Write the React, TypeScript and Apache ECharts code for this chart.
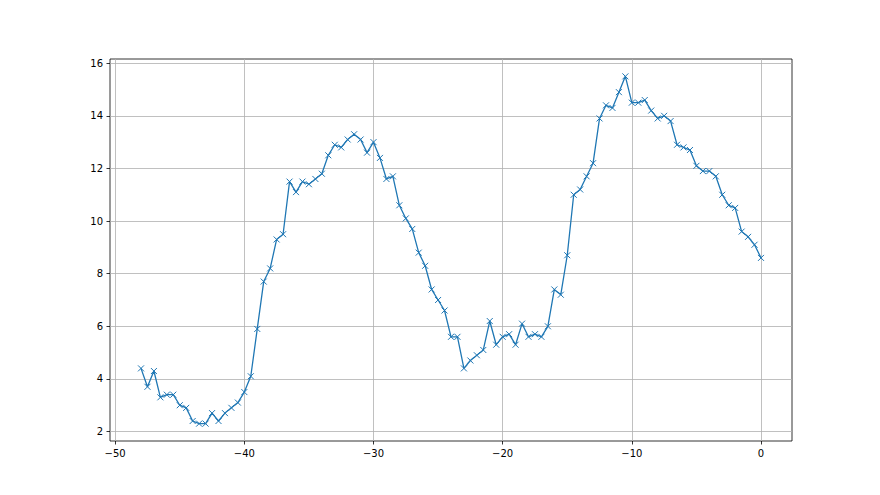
import React, { useEffect, useRef } from "react";
import * as echarts from "echarts";

const xValues = [
  -48, -47.5, -47, -46.5, -46, -45.5, -45, -44.5, -44, -43.5, -43, -42.5, -42, -41.5, -41, -40.5,
  -40, -39.5, -39, -38.5, -38, -37.5, -37, -36.5, -36, -35.5, -35, -34.5, -34, -33.5, -33, -32.5,
  -32, -31.5, -31, -30.5, -30, -29.5, -29, -28.5, -28, -27.5, -27, -26.5, -26, -25.5, -25, -24.5,
  -24, -23.5, -23, -22.5, -22, -21.5, -21, -20.5, -20, -19.5, -19, -18.5, -18, -17.5, -17, -16.5,
  -16, -15.5, -15, -14.5, -14, -13.5, -13, -12.5, -12, -11.5, -11, -10.5, -10, -9.5, -9, -8.5,
  -8, -7.5, -7, -6.5, -6, -5.5, -5, -4.5, -4, -3.5, -3, -2.5, -2, -1.5, -1, -0.5, 0,
];

const yValues = [
  4.4, 3.7, 4.3, 3.3, 3.4, 3.4, 3.0, 2.9, 2.4, 2.3, 2.3, 2.7, 2.4, 2.7, 2.9, 3.1,
  3.5, 4.1, 5.9, 7.7, 8.2, 9.3, 9.5, 11.5, 11.1, 11.5, 11.4, 11.6, 11.8, 12.5, 12.9, 12.8,
  13.1, 13.3, 13.1, 12.6, 13.0, 12.4, 11.6, 11.7, 10.6, 10.1, 9.7, 8.8, 8.3, 7.4, 7.0, 6.6,
  5.6, 5.6, 4.4, 4.7, 4.9, 5.1, 6.2, 5.3, 5.6, 5.7, 5.3, 6.1, 5.6, 5.7, 5.6, 6.0,
  7.4, 7.2, 8.7, 11.0, 11.2, 11.7, 12.2, 13.9, 14.4, 14.3, 14.9, 15.5, 14.5, 14.5, 14.6, 14.2,
  13.9, 14.0, 13.8, 12.9, 12.8, 12.7, 12.1, 11.9, 11.9, 11.7, 11.0, 10.6, 10.5, 9.6, 9.4, 9.1, 8.6,
];

const xTicks = [-50, -40, -30, -20, -10, 0];
const yTicks = [2, 4, 6, 8, 10, 12, 14, 16];

const fmt = (v: number) => String(v).replace("-", "\u2212");

export default function App() {
  const ref = useRef<HTMLDivElement>(null);
  useEffect(() => {
    const chart = echarts.init(ref.current!, null, { renderer: "svg" });
    const labelStyle = {
      color: "#000",
      fontSize: 10,
      fontFamily: "DejaVu Sans",
      margin: 7,
      formatter: fmt,
    };
    chart.setOption({
      animation: false,
      backgroundColor: "#fff",
      grid: {
        left: 110,
        top: 59,
        width: 682,
        height: 382,
        show: true,
        borderColor: "#000",
        borderWidth: 0.8,
        containLabel: false,
      },
      xAxis: {
        type: "value",
        min: -50.4,
        max: 2.4,
        axisLine: { show: false, onZero: false },
        axisTick: {
          show: true,
          inside: false,
          length: 3.5,
          customValues: xTicks,
          lineStyle: { color: "#000", width: 0.8 },
        },
        axisLabel: { ...labelStyle, customValues: xTicks },
        splitLine: { show: true, lineStyle: { color: "#b0b0b0", width: 0.8 } },
      },
      yAxis: {
        type: "value",
        min: 1.64,
        max: 16.16,
        axisLine: { show: false, onZero: false },
        axisTick: {
          show: true,
          inside: false,
          length: 3.5,
          customValues: yTicks,
          lineStyle: { color: "#000", width: 0.8 },
        },
        axisLabel: { ...labelStyle, customValues: yTicks },
        splitLine: { show: true, lineStyle: { color: "#b0b0b0", width: 0.8 } },
      },
      series: [
        {
          type: "line",
          data: xValues.map((x, i) => [x, yValues[i]]),
          symbol: "path://M0,0L10,10M10,0L0,10",
          symbolSize: 6,
          showSymbol: true,
          lineStyle: { color: "#1f77b4", width: 1.3 },
          itemStyle: { color: "#1f77b4", borderColor: "#1f77b4", borderWidth: 1 },
          z: 3,
        },
      ],
    });
    return () => chart.dispose();
  }, []);
  return (
    <div
      ref={ref}
      style={{ position: "absolute", left: 0, top: 0, width: 880, height: 495, background: "#fff" }}
    />
  );
}
